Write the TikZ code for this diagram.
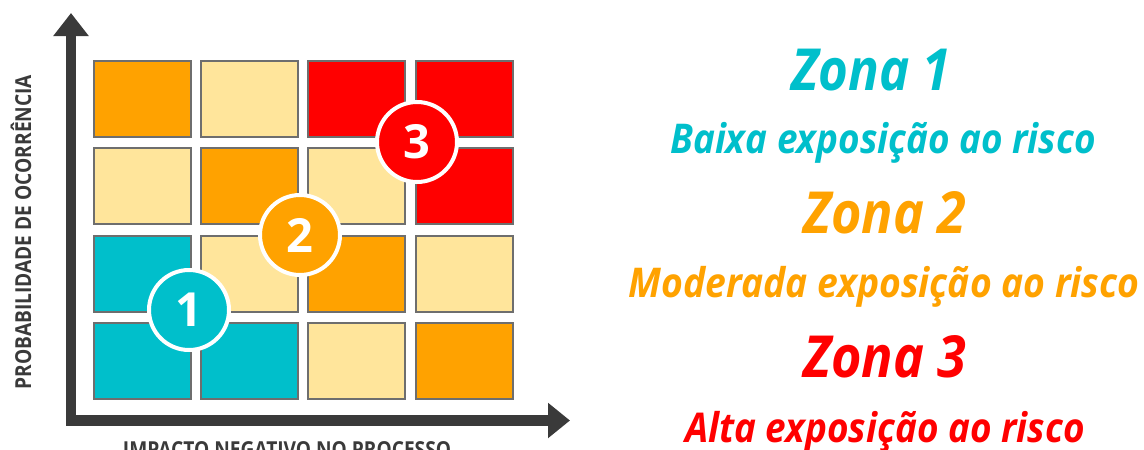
\documentclass[tikz,border=0pt]{standalone}
\usepackage{fontspec}
\setmainfont{Open Sans}
\usepackage{graphicx}
\usetikzlibrary{arrows.meta,positioning}

\definecolor{zonateal}{HTML}{00BFCB}
\definecolor{zonaorange}{HTML}{FFA200}
\definecolor{zonapale}{HTML}{FFE59B}
\definecolor{zonared}{HTML}{FF0000}
\definecolor{axisgray}{HTML}{3A3A3A}
\definecolor{cellborder}{HTML}{6E6E6E}

\tikzset{
  cell/.style={draw=cellborder, line width=2pt, minimum width=97pt, minimum height=76pt, inner sep=0pt},
  badge/.style={circle, draw=white, line width=4pt, minimum size=80pt, inner sep=0pt,
    text=white, font=\fontsize{47}{47}\selectfont\bfseries},
  axis/.style={line width=10.5pt, draw=axisgray, line join=miter,
    {Triangle[length=23pt,width=34pt]}-{Triangle[length=22pt,width=34pt]}},
  axislabel/.style={text=axisgray, font=\fontsize{22}{22}\selectfont\bfseries, inner sep=0pt, anchor=base},
  zonatitle/.style={font=\fontsize{58}{58}\selectfont\bfseries\itshape, anchor=base, inner sep=0pt},
  zonatext/.style={font=\fontsize{41}{41}\selectfont\bfseries\itshape, anchor=base, inner sep=0pt}
}

\begin{document}
\begin{tikzpicture}[x=1pt,y=-1pt]
  \useasboundingbox[fill=white] (0,0) rectangle (1144,450);

  % matrix of cells, row by row from the top
  \foreach \clr [count=\i from 0] in {zonaorange,zonapale,zonared,zonared,
      zonapale,zonaorange,zonapale,zonared,
      zonateal,zonapale,zonaorange,zonapale,
      zonateal,zonateal,zonapale,zonaorange}{
    \pgfmathtruncatemacro\row{div(\i,4)}
    \pgfmathtruncatemacro\col{mod(\i,4)}
    \node[cell, fill=\clr] (cell-\row-\col) at (142.5+107.2*\col, 98.5+87.5*\row) {};
  }

  % axes
  \coordinate (origin) at (71,420.5);
  \coordinate (ytip) at (71,13);
  \coordinate (xtip) at (570,420.5);
  \draw[axis] (ytip) -- (origin) -- (xtip);

  \node[axislabel, rotate=90] (ylabel) at (31,232) {\scalebox{0.87}[1]{PROBABILIDADE DE OCORRÊNCIA}};
  \node[axislabel] (xlabel) at (287,457) {\scalebox{0.87}[1]{IMPACTO NEGATIVO NO PROCESSO}};

  % zone badges
  \node[badge, fill=zonateal] (badge1) at (189,310) {1};
  \node[badge, fill=zonaorange] (badge2) at (300,235) {2};
  \node[badge, fill=zonared] (badge3) at (417,142) {3};

  % legend
  \node[zonatitle, text=zonateal] (zona1) at (871,90) {\scalebox{0.88}[1]{Zona 1}};
  \node[zonatext, text=zonateal] (desc1) at (883,153) {\scalebox{0.9}[1]{Baixa exposição ao risco}};
  \node[zonatitle, text=zonaorange] (zona2) at (885,233) {\scalebox{0.9}[1]{Zona 2}};
  \node[zonatext, text=zonaorange] (desc2) at (884,297) {\scalebox{0.91}[1]{Moderada exposição ao risco}};
  \node[zonatitle, text=zonared] (zona3) at (885,377) {\scalebox{0.9}[1]{Zona 3}};
  \node[zonatext, text=zonared] (desc3) at (885,442) {\scalebox{0.9}[1]{Alta exposição ao risco}};
\end{tikzpicture}
\end{document}
